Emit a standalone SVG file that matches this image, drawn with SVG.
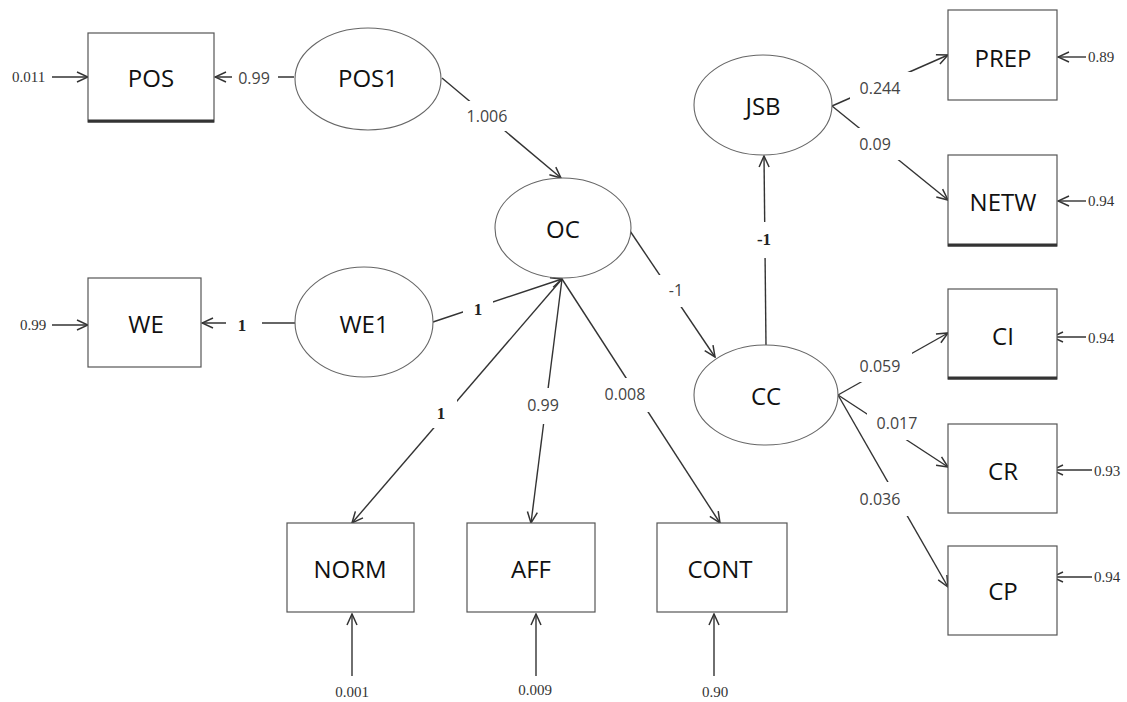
<svg xmlns="http://www.w3.org/2000/svg" width="1127" height="702" viewBox="0 0 1127 702">
<style>
.box{fill:#fff;stroke:#555;stroke-width:1.2}
.ell{fill:#fff;stroke:#666;stroke-width:1.1}
.nl{font-family:"Open Sans","Liberation Sans",sans-serif;font-size:24px;fill:#111;text-anchor:middle;dominant-baseline:central}
.c{stroke:#333;stroke-width:1.4;fill:none;marker-end:url(#ah)}
.pl{font-family:"Open Sans","Liberation Sans",sans-serif;font-size:16px;fill:#444;text-anchor:middle;dominant-baseline:central}
.sl{font-family:"Liberation Serif",serif;font-size:17px;font-weight:bold;fill:#222;text-anchor:middle;dominant-baseline:central}
.el{font-family:"Liberation Serif",serif;font-size:15px;fill:#333;dominant-baseline:central}
.bg{fill:#fff}
.thick{stroke:#333;stroke-width:3}
</style>
<defs>
<marker id="ah" markerUnits="userSpaceOnUse" markerWidth="14" markerHeight="14" viewBox="0 0 14 14" refX="13" refY="7" orient="auto">
<path d="M2,2 L13,7 L2,12" fill="none" stroke="#333" stroke-width="1.5"/>
</marker>
</defs>
<rect width="1127" height="702" fill="#fff"/>

<g id="connectors">
<line class="c" x1="52" y1="77" x2="88" y2="77"/>
<line class="c" x1="294" y1="77" x2="215" y2="77"/>
<line class="c" x1="442" y1="78" x2="561" y2="178"/>
<line class="c" x1="52" y1="325" x2="88" y2="325"/>
<line class="c" x1="295" y1="323" x2="202" y2="323"/>
<line class="c" x1="433" y1="322" x2="562" y2="279"/>
<line class="c" x1="562" y1="279" x2="352" y2="523"/>
<line class="c" x1="562" y1="279" x2="531" y2="523"/>
<line class="c" x1="562" y1="279" x2="720" y2="523"/>
<line class="c" x1="628" y1="228" x2="715" y2="357"/>
<line class="c" x1="766" y1="345" x2="764" y2="156"/>
<line class="c" x1="832" y1="106" x2="948" y2="55"/>
<line class="c" x1="832" y1="106" x2="948" y2="200"/>
<line class="c" x1="838" y1="395" x2="948" y2="333"/>
<line class="c" x1="838" y1="395" x2="948" y2="467"/>
<line class="c" x1="838" y1="395" x2="948" y2="587"/>
<line class="c" x1="1086" y1="57" x2="1058" y2="57"/>
<line class="c" x1="1086" y1="201" x2="1058" y2="201"/>
<line class="c" x1="1086" y1="337" x2="1052" y2="337"/>
<line class="c" x1="1092" y1="470" x2="1052" y2="470"/>
<line class="c" x1="1092" y1="577" x2="1052" y2="577"/>
<line class="c" x1="352" y1="676" x2="352" y2="614"/>
<line class="c" x1="536" y1="676" x2="536" y2="614"/>
<line class="c" x1="714" y1="676" x2="714" y2="614"/>

<rect class="bg" x="232" y="64" width="46" height="28"/>
<text class="pl" x="254" y="78">0.99</text>
<rect class="bg" x="458" y="101" width="58" height="30"/>
<text class="pl" x="487" y="116">1.006</text>
<rect class="bg" x="226" y="311" width="36" height="28"/>
<text class="sl" x="242" y="325">1</text>
<rect class="bg" x="463" y="296" width="30" height="28"/>
<text class="sl" x="478" y="309">1</text>
<rect class="bg" x="425" y="398" width="32" height="30"/>
<text class="sl" x="441" y="413">1</text>
<rect class="bg" x="518" y="388" width="50" height="36"/>
<text class="pl" x="543" y="405">0.99</text>
<rect class="bg" x="594" y="378" width="62" height="34"/>
<text class="pl" x="625" y="394">0.008</text>
<rect class="bg" x="658" y="275" width="36" height="32"/>
<text class="pl" x="676" y="290">-1</text>
<rect class="bg" x="746" y="222" width="36" height="36"/>
<text class="sl" x="764" y="239">-1</text>
<rect class="bg" x="850" y="72" width="62" height="32"/>
<text class="pl" x="880" y="88">0.244</text>
<rect class="bg" x="850" y="128" width="52" height="32"/>
<text class="pl" x="875" y="144">0.09</text>
<rect class="bg" x="850" y="350" width="62" height="32"/>
<text class="pl" x="880" y="366">0.059</text>
<rect class="bg" x="867" y="408" width="62" height="32"/>
<text class="pl" x="897" y="423">0.017</text>
<rect class="bg" x="850" y="482" width="62" height="34"/>
<text class="pl" x="880" y="499">0.036</text>

<text class="el" x="12" y="77">0.011</text>
<text class="el" x="20" y="325">0.99</text>
<text class="el" x="1088" y="57">0.89</text>
<text class="el" x="1088" y="201">0.94</text>
<text class="el" x="1088" y="338">0.94</text>
<text class="el" x="1094" y="471">0.93</text>
<text class="el" x="1094" y="577">0.94</text>
<text class="el" x="352" y="692" text-anchor="middle">0.001</text>
<text class="el" x="535" y="690" text-anchor="middle">0.009</text>
<text class="el" x="715" y="692" text-anchor="middle">0.90</text>
</g>

<g id="POS"><rect class="box" x="88" y="33" width="126" height="89"/><line class="thick" x1="88" y1="121" x2="214" y2="121"/><text class="nl" x="151" y="77">POS</text></g>
<g id="WE"><rect class="box" x="88" y="278" width="113" height="89"/><text class="nl" x="146" y="323">WE</text></g>
<g id="POS1"><ellipse class="ell" cx="368" cy="79" rx="73" ry="51"/><text class="nl" x="368" y="77">POS1</text></g>
<g id="WE1"><ellipse class="ell" cx="364" cy="322" rx="69" ry="55"/><text class="nl" x="364" y="323">WE1</text></g>
<g id="OC"><ellipse class="ell" cx="563" cy="228" rx="68" ry="50"/><text class="nl" x="563" y="228">OC</text></g>
<g id="NORM"><rect class="box" x="287" y="523" width="127" height="89"/><text class="nl" x="350" y="568">NORM</text></g>
<g id="AFF"><rect class="box" x="467" y="523" width="128" height="89"/><text class="nl" x="531" y="568">AFF</text></g>
<g id="CONT"><rect class="box" x="657" y="523" width="130" height="89"/><text class="nl" x="720" y="568">CONT</text></g>
<g id="CC"><ellipse class="ell" cx="766" cy="395" rx="72" ry="50"/><text class="nl" x="766" y="395">CC</text></g>
<g id="JSB"><ellipse class="ell" cx="763" cy="105" rx="69" ry="50"/><text class="nl" x="763" y="105">JSB</text></g>
<g id="PREP"><rect class="box" x="948" y="10" width="109" height="90"/><text class="nl" x="1003" y="57">PREP</text></g>
<g id="NETW"><rect class="box" x="948" y="155" width="109" height="91"/><line class="thick" x1="948" y1="245" x2="1057" y2="245"/><text class="nl" x="1003" y="201">NETW</text></g>
<g id="CI"><rect class="box" x="948" y="289" width="109" height="90"/><line class="thick" x1="948" y1="378" x2="1057" y2="378"/><text class="nl" x="1003" y="335">CI</text></g>
<g id="CR"><rect class="box" x="948" y="424" width="109" height="89"/><text class="nl" x="1003" y="470">CR</text></g>
<g id="CP"><rect class="box" x="948" y="546" width="109" height="89"/><text class="nl" x="1003" y="590">CP</text></g>
</svg>
